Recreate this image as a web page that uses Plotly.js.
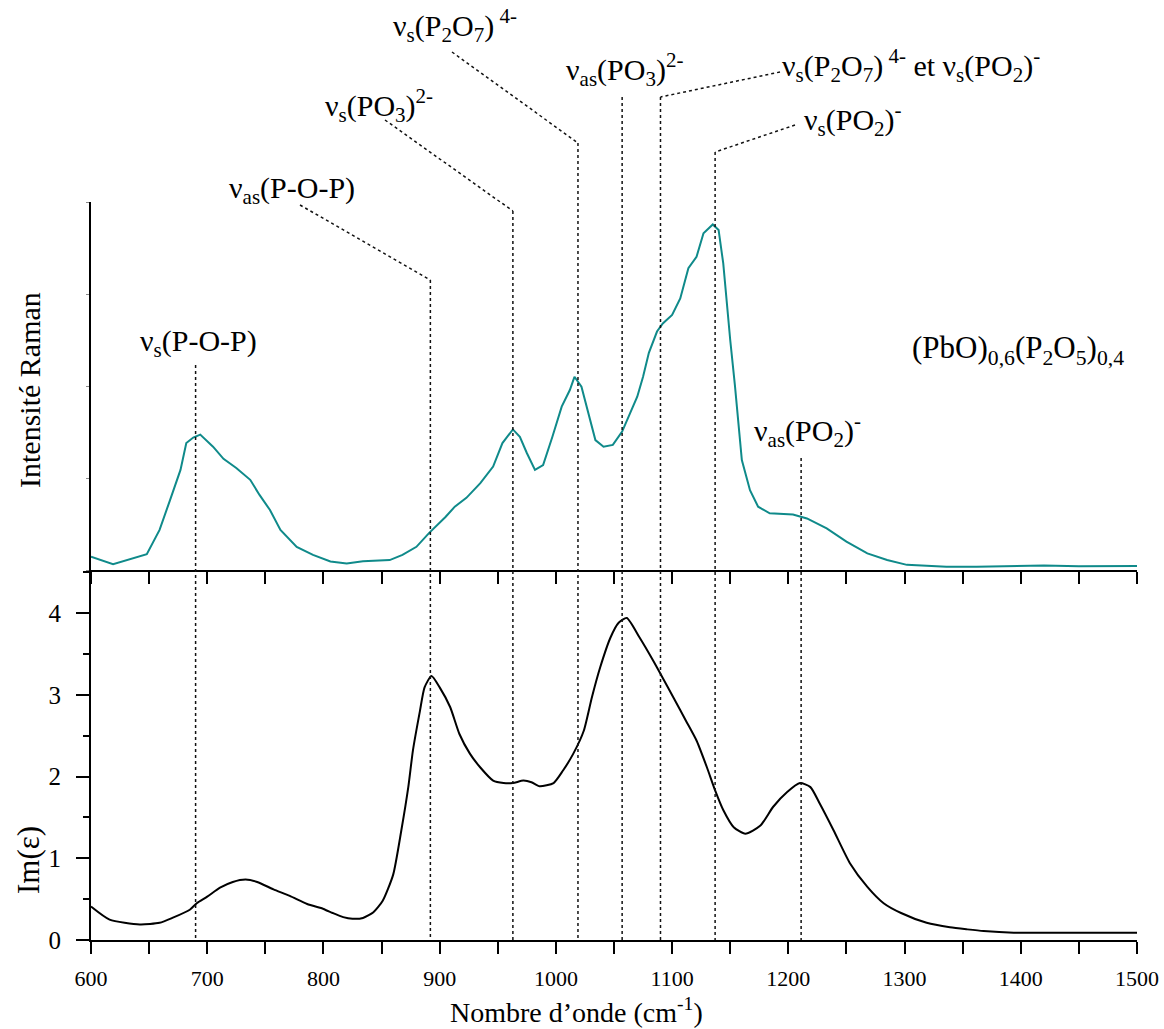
<!DOCTYPE html>
<html>
<head>
<meta charset="utf-8">
<script src="https://cdn.plot.ly/plotly-3.0.1.min.js"></script>
<style>html,body{margin:0;padding:0;background:#fff;}#chart{width:1164px;height:1029px;}</style>
</head>
<body>
<div id="chart"></div>
<script>
// ---------- DATA ----------
// Raman spectrum (arbitrary units)
var ramanX = [600,619,648,659,668,677,682,688,694,705,714,725,737,745,754,763,777,791,806,820,834,857,868,880,891,905,913,923,935,946,954,963,969,975,982,989,997,1005,1012,1016,1022,1028,1034,1041,1049,1057,1064,1070,1075,1080,1087,1092,1100,1107,1114,1121,1127,1135,1140,1144,1150,1154,1160,1167,1174,1184,1204,1216,1233,1250,1268,1285,1302,1336,1362,1420,1450,1500];
var ramanY = [3.6,1.6,4.3,10.9,19.0,27.2,34.5,36.0,36.8,33.5,30.2,27.7,24.5,20.4,16.3,10.9,6.3,4.1,2.3,1.8,2.4,2.7,4.1,6.3,10.1,14.4,17.2,19.6,23.6,28.1,34.5,38.2,36.2,31.8,27.2,28.5,36.2,44.4,48.9,52.5,49.8,42.7,35.3,33.5,34.0,37.6,42.7,47.1,52.5,59.0,64.8,67.0,69.3,73.8,82.0,85.1,91.5,93.9,92.4,83.3,62.5,50.3,29.9,21.7,17.2,15.4,15.1,14.0,11.3,7.7,4.5,2.7,1.4,0.9,0.9,1.2,1.0,1.1];

// Im(epsilon)
var epsX = [600,616,642,659,670,685,691,700,711,722,733,743,757,771,786,800,808,817,825,834,843,851,860,867,873,877,883,887,893,900,909,917,926,935,946,955,963,972,979,986,998,1006,1015,1024,1031,1038,1047,1054,1061,1072,1084,1091,1101,1112,1121,1130,1137,1144,1153,1163,1176,1187,1199,1210,1219,1227,1239,1253,1268,1282,1297,1319,1339,1354,1368,1394,1450,1500];
var epsY = [0.41,0.25,0.19,0.21,0.27,0.37,0.45,0.53,0.64,0.71,0.74,0.71,0.62,0.54,0.44,0.38,0.33,0.28,0.26,0.27,0.34,0.48,0.80,1.34,1.87,2.32,2.80,3.09,3.23,3.09,2.85,2.52,2.28,2.11,1.95,1.92,1.92,1.95,1.93,1.88,1.92,2.07,2.28,2.56,2.97,3.33,3.70,3.88,3.94,3.70,3.41,3.23,2.97,2.68,2.44,2.11,1.83,1.59,1.38,1.30,1.40,1.63,1.81,1.92,1.87,1.67,1.34,0.94,0.65,0.45,0.33,0.21,0.155,0.13,0.11,0.09,0.09,0.09];

// Band assignments (wavenumber, cm-1) and their labels
var bandPositions = [690, 892, 963, 1019, 1057, 1090, 1137, 1211];
var bandLabels = [
  "ν<sub>s</sub>(P-O-P)",
  "ν<sub>as</sub>(P-O-P)",
  "ν<sub>s</sub>(PO<sub>3</sub>)<sup>2-</sup>",
  "ν<sub>s</sub>(P<sub>2</sub>O<sub>7</sub>)<sup> 4-</sup>",
  "ν<sub>as</sub>(PO<sub>3</sub>)<sup>2-</sup>",
  "ν<sub>s</sub>(P<sub>2</sub>O<sub>7</sub>)<sup> 4-</sup> et ν<sub>s</sub>(PO<sub>2</sub>)<sup>-</sup>",
  "ν<sub>s</sub>(PO<sub>2</sub>)<sup>-</sup>",
  "ν<sub>as</sub>(PO<sub>2</sub>)<sup>-</sup>"
];
var sampleLabel = "(PbO)<sub>0,6</sub>(P<sub>2</sub>O<sub>5</sub>)<sub>0,4</sub>";
var xTickVals = [600,700,800,900,1000,1100,1200,1300,1400,1500];
var yTickVals = [0,1,2,3,4];

// ---------- LAYOUT HELPERS (pixel placement of labels) ----------
var W = 1164, H = 1029, ML = 91, MR = 27, MT = 15, MB = 89;
var PW = W - ML - MR, PH = H - MT - MB;
function py(p){ return (H - MB - p) / PH; }         // pixel y -> paper
function px(p){ return (p - ML) / PW; }             // pixel x -> paper
function pxData(p){ return 600 + (p - ML) / PW * 900; } // pixel x -> data x

// label placement: text centre (px), line top (px), optional elbow start (px)
var labelPlace = [
  {tx:198, ty:343, top:365},
  {tx:292, ty:190, top:280, ex:300, ey:205},
  {tx:379, ty:105, top:211, ex:385, ey:120},
  {tx:455, ty:25,  top:143, ex:452, ey:52},
  {tx:624, ty:70,  top:97},
  {tx:911, ty:65,  top:97,  ex:780, ey:72},
  {tx:853, ty:120, top:152, ex:795, ey:125},
  {tx:807, ty:430, top:458}
];

var FONT = "'Liberation Serif', 'Times New Roman', serif";
var shapes = [], annotations = [];
var dotLine = {color:"#111", width:1.5, dash:"dot"};
bandPositions.forEach(function(b, i){
  var L = labelPlace[i];
  shapes.push({type:"line", xref:"x2", yref:"paper", x0:b, x1:b, y0:py(L.top), y1:0, line:dotLine});
  if (L.ex !== undefined) {
    shapes.push({type:"line", xref:"x2", yref:"paper", x0:pxData(L.ex), y0:py(L.ey), x1:b, y1:py(L.top), line:dotLine});
  }
  annotations.push({text:bandLabels[i], xref:"paper", yref:"paper", x:px(L.tx), y:py(L.ty),
    xanchor:"center", yanchor:"middle", showarrow:false, font:{family:FONT, size:30, color:"#000"}});
});
annotations.push({text:sampleLabel, xref:"paper", yref:"paper", x:px(1018), y:py(350), xanchor:"center", yanchor:"middle", showarrow:false, font:{family:FONT, size:31, color:"#000"}});
annotations.push({text:"Intensité Raman", xref:"paper", yref:"paper", x:px(30), y:py(390), xanchor:"center", yanchor:"middle", textangle:-90, showarrow:false, font:{family:FONT, size:30, color:"#000"}});
annotations.push({text:"Im(ε)", xref:"paper", yref:"paper", x:px(28), y:py(860), xanchor:"center", yanchor:"middle", textangle:-90, showarrow:false, font:{family:FONT, size:31, color:"#000"}});
annotations.push({text:"Nombre d’onde (cm<sup>-1</sup>)", xref:"paper", yref:"paper", x:px(576), y:py(1010), xanchor:"center", yanchor:"middle", showarrow:false, font:{family:FONT, size:28, color:"#000"}});

var traces = [
  {x:ramanX, y:ramanY, xaxis:"x", yaxis:"y", type:"scatter", mode:"lines", line:{color:"#0f8a8a", width:2}, hoverinfo:"skip"},
  {x:epsX, y:epsY, xaxis:"x2", yaxis:"y2", type:"scatter", mode:"lines", line:{color:"#000", width:2, shape:"spline", smoothing:0.6}, hoverinfo:"skip"}
];

var layout = {
  width:W, height:H, margin:{l:ML, r:MR, t:MT, b:MB},
  paper_bgcolor:"#fff", plot_bgcolor:"rgba(0,0,0,0)",
  showlegend:false,
  font:{family:FONT, color:"#000"},
  xaxis:{domain:[0,1], anchor:"y", range:[600,1500], showgrid:false, zeroline:false, showline:true, linecolor:"#000", linewidth:2,
         ticks:"outside", tickmode:"linear", tick0:600, dtick:50, ticklen:12, tickwidth:2, tickcolor:"#000", showticklabels:false},
  yaxis:{domain:[py(570), py(202)], anchor:"x", range:[0,100], showgrid:false, zeroline:false, showline:true, linecolor:"#000", linewidth:2,
         ticks:"outside", tickmode:"linear", tick0:0, dtick:25, ticklen:3, tickwidth:1, tickcolor:"#888", showticklabels:false},
  xaxis2:{domain:[0,1], anchor:"y2", range:[600,1500], showgrid:false, zeroline:false, showline:true, linecolor:"#000", linewidth:2,
         ticks:"outside", tickmode:"array", tickvals:xTickVals, ticklen:12, tickwidth:2, tickcolor:"#000",
         minor:{ticks:"outside", tickmode:"linear", tick0:650, dtick:100, ticklen:12, tickwidth:2, tickcolor:"#000"},
         tickfont:{family:FONT, size:22, color:"#000"}, ticklabelstandoff:6},
  yaxis2:{domain:[0, py(570)], anchor:"x2", range:[0, (940-570)/81.75], showgrid:false, zeroline:false, showline:true, linecolor:"#000", linewidth:2,
         ticks:"outside", tickmode:"array", tickvals:yTickVals, ticklen:13, tickwidth:2, tickcolor:"#000",
         minor:{ticks:"outside", tickmode:"linear", tick0:0.5, dtick:1, ticklen:6, tickwidth:2, tickcolor:"#000"},
         tickfont:{family:FONT, size:25, color:"#000"}, ticklabelstandoff:10},
  shapes:shapes,
  annotations:annotations
};

Plotly.newPlot("chart", traces, layout, {displayModeBar:false, staticPlot:true});
</script>
</body>
</html>
